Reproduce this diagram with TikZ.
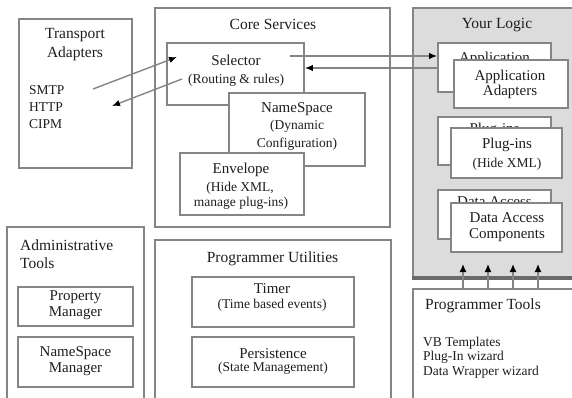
\documentclass[tikz,border=0pt]{standalone}
\usepackage{fontspec}
\setmainfont{Liberation Serif}
\usetikzlibrary{arrows.meta}
\definecolor{edge}{HTML}{858585}
\definecolor{logicbg}{HTML}{DCDCDC}
\definecolor{txt}{HTML}{1E1E1E}
\begin{document}
\begin{tikzpicture}[x=1pt,y=-1pt,
  panel/.style={draw=edge, line width=2.4pt, rectangle, inner sep=0pt},
  box/.style={draw=edge, line width=1.8pt, fill=white, rectangle, inner sep=0pt},
  ttl/.style={font=\fontsize{15.5}{18}\selectfont, text=txt, inner sep=0pt, anchor=base},
  mainl/.style={font=\fontsize{15}{18}\selectfont, text=txt, inner sep=0pt, anchor=base},
  subl/.style={font=\fontsize{13.5}{16}\selectfont, text=txt, inner sep=0pt, anchor=base},
  listl/.style={font=\fontsize{13.5}{16}\selectfont, text=txt, inner sep=0pt, anchor=base west},
  conn/.style={draw=edge, line width=1.4pt, -{Latex[length=8pt,width=6.5pt,color=black]}},
  upconn/.style={draw=edge, line width=1.4pt, -{Latex[length=8pt,width=7pt,color=black]}}
]
\useasboundingbox (0,0) rectangle (572,397);
\fill[white] (0,0) rectangle (572,397);

% ---------- panels ----------
\node[panel, minimum width=113pt, minimum height=149pt] (transport) at (75.5,93.5) {};
\node[panel, minimum width=235pt, minimum height=219pt] (core) at (272.5,117.5) {};
\node[panel, fill=logicbg, minimum width=165pt, minimum height=269pt] (logic) at (495.5,142.5) {};
\draw[draw=edge!80!black, line width=3.5pt] (logic.south west) -- (logic.south east);
\node[panel, minimum width=137pt, minimum height=180pt] (admin) at (75.5,317) {};
\node[panel, minimum width=236pt, minimum height=170pt] (utils) at (273,325) {};
\node[panel, minimum width=165pt, minimum height=120pt] (ptools) at (495.5,349) {};

% ---------- panel titles / texts ----------
\node[ttl] (transportA) at (75,38) {Transport};
\node[ttl] (transportB) at (75,57) {Adapters};
\node[listl] (smtp) at (29,94) {SMTP};
\node[listl] (http) at (29,111) {HTTP};
\node[listl] (cipm) at (29,128) {CIPM};
\node[ttl] (coreT) at (273,29) {Core Services};
\node[ttl] (logicT) at (497,28) {Your Logic};
\node[ttl, anchor=base west] (adminA) at (20,250) {Administrative};
\node[ttl, anchor=base west] (adminB) at (20,268) {Tools};
\node[ttl] (utilsT) at (272.5,262) {Programmer Utilities};
\node[ttl, anchor=base west] (ptoolsT) at (425,309) {Programmer Tools};
\node[listl] (vb) at (423,346.5) {VB Templates};
\node[listl] (plugw) at (423,360.5) {Plug-In wizard};
\node[listl] (dataw) at (423,375.5) {Data Wrapper wizard};

% ---------- core services boxes ----------
\node[box, minimum width=137pt, minimum height=62pt] (selector) at (235.5,74) {};
\node[mainl] (selA) at (236,65) {Selector};
\node[subl] (selB) at (236,83.5) {(Routing \& rules)};

\node[box, minimum width=136pt, minimum height=73pt] (namespace) at (297,129.5) {};
\node[mainl] (nsA) at (297,112) {NameSpace};
\node[subl] (nsB) at (297,129.5) {(Dynamic};
\node[subl] (nsC) at (297,147.5) {Configuration)};

\node[box, minimum width=124pt, minimum height=62pt] (envelope) at (242,184) {};
\node[mainl] (envA) at (241,173) {Envelope};
\node[subl] (envB) at (240,191) {(Hide XML,};
\node[subl] (envC) at (241,206.5) {manage plug-ins)};

% ---------- your logic boxes ----------
\node[box, minimum width=113pt, minimum height=49pt] (appback) at (494.5,67.5) {};
\node[mainl] (appbackT) at (494.5,62) {Application};
\node[box, minimum width=114pt, minimum height=48pt] (appfront) at (511,84) {};
\node[mainl] (appA) at (510,80) {Application};
\node[mainl] (appB) at (510,95) {Adapters};

\node[box, minimum width=113pt, minimum height=48pt] (plugback) at (494.5,141) {};
\node[mainl] (plugbackT) at (494.5,133) {Plug-ins};
\node[box, minimum width=111pt, minimum height=50pt] (plugfront) at (506.5,153) {};
\node[mainl] (plugA) at (507,148) {Plug-ins};
\node[subl] (plugB) at (507,167.5) {(Hide XML)};

\node[box, minimum width=113pt, minimum height=49pt] (databack) at (494.5,214.5) {};
\node[mainl] (databackT) at (494.5,206) {Data Access};
\node[box, minimum width=111pt, minimum height=49pt] (datafront) at (506.5,227.5) {};
\node[mainl] (dataA) at (507,222) {Data Access};
\node[mainl] (dataB) at (507,238) {Components};

% ---------- admin boxes ----------
\node[box, minimum width=115pt, minimum height=39pt] (property) at (75.5,306.5) {};
\node[mainl] (propA) at (75.5,300) {Property};
\node[mainl] (propB) at (75.5,316) {Manager};
\node[box, minimum width=115pt, minimum height=50pt] (nsmgr) at (75.5,362) {};
\node[mainl] (nsmA) at (75.5,356) {NameSpace};
\node[mainl] (nsmB) at (75.5,372) {Manager};

% ---------- utilities boxes ----------
\node[box, minimum width=162pt, minimum height=50pt] (timer) at (273,302) {};
\node[mainl] (timerA) at (272,293) {Timer};
\node[subl] (timerB) at (272,308.5) {(Time based events)};
\node[box, minimum width=162pt, minimum height=50pt] (persist) at (273,362) {};
\node[mainl] (persA) at (273,358) {Persistence};
\node[subl] (persB) at (273,371.5) {(State Management)};

% ---------- connectors ----------
\coordinate (tOut) at (93,89);
\coordinate (tIn) at (112,106);
\coordinate (sIn) at (177,57);
\coordinate (sOut) at (182,79);
\draw[conn] (tOut) -- (sIn);
\draw[conn] (sOut) -- (tIn);

\coordinate (sR1) at (290,56);
\coordinate (aL1) at (appback.west |- sR1);
\coordinate (aL2) at (437,68);
\coordinate (sR2) at (selector.east |- aL2);
\draw[conn] (sR1) -- (aL1);
\draw[conn] (aL2) -- (sR2);

\foreach \x/\n in {463/1,488/2,513/3,538/4}{
  \coordinate (pt\n) at (\x,289);
  \coordinate (lg\n) at (\x,264);
  \draw[upconn] (pt\n) -- (lg\n);
}
\end{tikzpicture}
\end{document}
